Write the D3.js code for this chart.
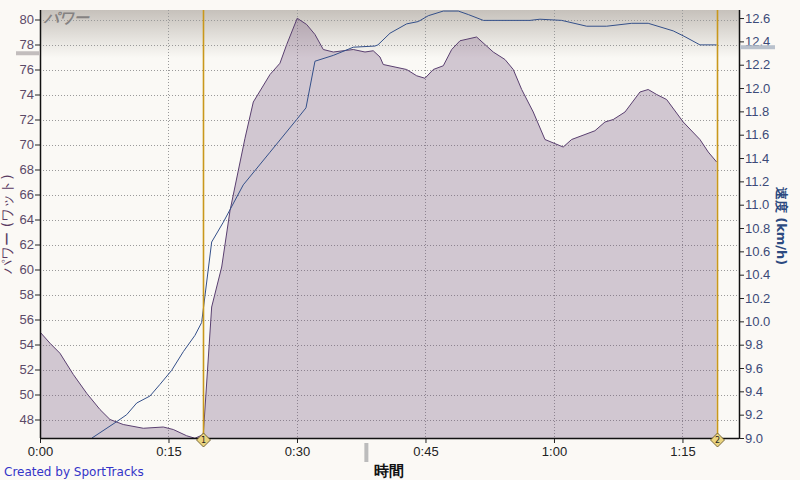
<!DOCTYPE html>
<html>
<head>
<meta charset="utf-8">
<script src="https://cdn.jsdelivr.net/npm/d3@7"></script>
<style>
  body { margin: 0; background: #fbf9f5; }
  svg { display: block; font-family: "DejaVu Sans", Verdana, sans-serif; }
</style>
</head>
<body>
<div id="chart"></div>
<script>
// 時間 (分)
const powerTime = [0, 1.17, 2.33, 3.89, 5.45, 7.0, 8.17, 9.72, 12.06, 14.39, 15.56, 17.12, 18.09, 19.06,
  20.04, 21.21, 22.18, 23.93, 24.9, 26.85, 28.01, 28.8, 30.03, 31.13, 32.1, 33.07, 34.24, 36.57, 37.94,
  38.9, 39.69, 40.07, 42.8, 43.97, 44.94, 45.91, 47.08, 48.06, 49.03, 50.97, 52.91, 54.28, 55.25, 56.23,
  57.58, 58.95, 61.08, 62.06, 63.62, 64.78, 65.95, 66.92, 68.29, 70.04, 71.0, 71.99, 73.15, 75.09, 77.04,
  78.01, 78.99];
// パワー (ワット)
const powerValues = [55.0, 54.1, 53.3, 51.6, 50.1, 48.8, 48.0, 47.6, 47.3, 47.4, 47.2, 46.7, 46.5, 46.8,
  57.0, 60.2, 64.7, 70.5, 73.4, 75.6, 76.5, 78.0, 80.1, 79.6, 78.8, 77.6, 77.4, 77.6, 77.4,
  77.5, 77.0, 76.4, 76.0, 75.5, 75.3, 76.0, 76.3, 77.6, 78.3, 78.6, 77.4, 76.8, 76.0, 74.4,
  72.6, 70.4, 69.8, 70.4, 70.8, 71.1, 71.8, 72.0, 72.6, 74.2, 74.4, 74.0, 73.6, 71.8, 70.4,
  69.4, 68.6];

const speedTime = [6.07, 8.95, 10.12, 11.29, 12.84, 14.01, 15.37, 16.73, 18.09, 18.87, 20.04, 21.4,
  23.73, 26.85, 29.96, 31.05, 32.1, 34.24, 36.57, 39.1, 39.45, 40.86, 42.8, 44.16, 45.33, 47.08, 48.83,
  50.0, 51.75, 57.2, 58.36, 60.9, 63.82, 66.15, 69.07, 71.0, 73.92, 75.29, 77.04, 78.99];
// 速度 (km/h)
const speedValues = [9.0, 9.14, 9.2, 9.3, 9.36, 9.46, 9.58, 9.74, 9.88, 9.99, 10.68, 10.85,
  11.17, 11.45, 11.73, 11.83, 12.23, 12.28, 12.35, 12.36, 12.37, 12.47, 12.55, 12.57, 12.62, 12.66, 12.66,
  12.63, 12.58, 12.58, 12.59, 12.58, 12.53, 12.53, 12.555, 12.555, 12.49, 12.44, 12.37, 12.37];

const lapMarkers = [19.03, 79.0];
const lapLabels = ["1", "2"];
const avgPower = 77.3, avgSpeed = 12.35, avgTime = 38.1;

const powerTicks = d3.range(48, 81, 2);
const speedTicks = d3.range(9.0, 12.61, 0.2);
const timeTicks = [0, 15, 30, 45, 60, 75];

const W = 800, H = 480;
const margin = { top: 10, right: 61, bottom: 42, left: 40 };
const width = W - margin.left - margin.right;
const height = H - margin.top - margin.bottom;

const svg = d3.select("#chart").append("svg")
    .attr("width", W).attr("height", H);

svg.append("rect").attr("width", W).attr("height", H).attr("fill", "#fbf9f5");

const defs = svg.append("defs");
const grad = defs.append("linearGradient").attr("id", "topGrad")
    .attr("x1", 0).attr("y1", 0).attr("x2", 0).attr("y2", 1);
grad.append("stop").attr("offset", "0%").attr("stop-color", "#c6c1bb");
grad.append("stop").attr("offset", "100%").attr("stop-color", "#faf9f5");
defs.append("clipPath").attr("id", "plotClip")
  .append("rect").attr("width", width).attr("height", height);

const x = d3.scaleLinear().domain([0, 81.6]).range([0, width]);
const yP = d3.scaleLinear().domain([46.52, 80.76]).range([height, 0]);
const yS = d3.scaleLinear().domain([9.0, 12.669]).range([height, 0]);

const g = svg.append("g").attr("transform", `translate(${margin.left},${margin.top})`);

// 背景
g.append("rect").attr("width", width).attr("height", height).attr("fill", "#faf9f5");
g.append("rect").attr("width", width).attr("height", 48).attr("fill", "url(#topGrad)");

// グリッド
g.append("g").selectAll("line").data(powerTicks).join("line")
    .attr("x1", 0).attr("x2", width)
    .attr("y1", d => Math.round(yP(d)) + 0.5).attr("y2", d => Math.round(yP(d)) + 0.5)
    .attr("stroke", "#9a9a9a").attr("stroke-dasharray", "1,2");
g.append("g").selectAll("line").data(timeTicks.slice(1)).join("line")
    .attr("x1", d => Math.round(x(d)) + 0.5).attr("x2", d => Math.round(x(d)) + 0.5)
    .attr("y1", 0).attr("y2", height)
    .attr("stroke", "#9a9a9a").attr("stroke-dasharray", "1,2");

const powerData = powerTime.map((t, i) => ({ t, v: powerValues[i] }));
const speedData = speedTime.map((t, i) => ({ t, v: speedValues[i] }));

const plot = g.append("g").attr("clip-path", "url(#plotClip)");

plot.append("path").datum(powerData)
    .attr("d", d3.area().x(d => x(d.t)).y0(height).y1(d => yP(d.v)))
    .attr("fill", "#6e4c78").attr("fill-opacity", 0.29);
plot.append("path").datum(powerData)
    .attr("d", d3.line().x(d => x(d.t)).y(d => yP(d.v)))
    .attr("fill", "none").attr("stroke", "#5a4070").attr("stroke-width", 1);

plot.append("path").datum(speedData)
    .attr("d", d3.line().x(d => x(d.t)).y(d => yS(d.v)))
    .attr("fill", "none").attr("stroke", "#34508a").attr("stroke-width", 1);

// ラップ
g.selectAll(".lap").data(lapMarkers).join("line")
    .attr("class", "lap")
    .attr("x1", d => Math.round(x(d)) + 0.5).attr("x2", d => Math.round(x(d)) + 0.5)
    .attr("y1", 0).attr("y2", height)
    .attr("stroke", "#c9981c").attr("stroke-width", 1.6);

// 軸
const axisL = g.append("g").call(d3.axisLeft(yP).tickValues(powerTicks).tickSize(5).tickSizeOuter(0));
axisL.select(".domain").remove();
axisL.selectAll("line").attr("stroke", "#222");
axisL.selectAll("text").attr("fill", "#5c4a68").style("font-size", "13px").attr("x", -6);

const axisR = g.append("g").attr("transform", `translate(${width},0)`)
    .call(d3.axisRight(yS).tickValues(speedTicks).tickSize(5).tickFormat(d3.format(".1f")));
axisR.select(".domain").remove();
axisR.selectAll("line").attr("stroke", "#222");
axisR.selectAll("text").attr("fill", "#3c4a78").style("font-size", "13px").attr("x", 6);

const fmt = m => `${Math.floor(m / 60)}:${String(m % 60).padStart(2, "0")}`;
const axisB = g.append("g").attr("transform", `translate(0,${height})`)
    .call(d3.axisBottom(x).tickValues(timeTicks).tickSize(5).tickFormat(fmt));
axisB.select(".domain").remove();
axisB.selectAll("line").attr("stroke", "#222");
axisB.selectAll("text").attr("fill", "#222").style("font-size", "13px").attr("y", 9);

g.append("line").attr("x1", 0.5).attr("x2", 0.5).attr("y1", 0).attr("y2", height).attr("stroke", "#111").attr("stroke-width", 1.5);
g.append("line").attr("x1", width + 0.5).attr("x2", width + 0.5).attr("y1", 0).attr("y2", height).attr("stroke", "#111").attr("stroke-width", 1.5);
g.append("line").attr("x1", 0).attr("x2", width).attr("y1", height + 0.5).attr("y2", height + 0.5).attr("stroke", "#111").attr("stroke-width", 1.5);

// ラップマーカー
const diamonds = g.selectAll(".dia").data(lapMarkers).join("g")
    .attr("transform", d => `translate(${Math.round(x(d)) + 0.5},${height + 2})`);
diamonds.append("path").attr("d", "M0,-7L7,0L0,7L-7,0Z")
    .attr("fill", "#ead47e").attr("stroke", "#5a4a20").attr("stroke-width", 0.8);
diamonds.append("text").attr("text-anchor", "middle").attr("y", 3)
    .style("font-size", "8px").attr("fill", "#222").text((d, i) => lapLabels[i]);

// 平均マーカー
g.append("rect").attr("x", -24).attr("y", yP(avgPower) - 2).attr("width", 24).attr("height", 4).attr("fill", "#c2bdbd");
g.append("rect").attr("x", width + 1).attr("y", yS(avgSpeed) - 2).attr("width", 35).attr("height", 4).attr("fill", "#b9c1cc");
g.append("rect").attr("x", x(avgTime) - 2).attr("y", height + 5).attr("width", 4).attr("height", 19).attr("fill", "#bcbcbc");

// タイトル・ラベル
g.append("text").attr("x", 4).attr("y", 13)
    .style("font-size", "15px").style("font-style", "italic").style("font-weight", "bold")
    .attr("fill", "#858282").text("パワー");

svg.append("text")
    .attr("transform", `translate(12,${224}) rotate(-90)`)
    .attr("text-anchor", "middle")
    .style("font-size", "14px").attr("fill", "#5a3a62")
    .text("パワー (ワット)");

svg.append("text")
    .attr("transform", `translate(777,${226}) rotate(90)`)
    .attr("text-anchor", "middle")
    .style("font-size", "13px").style("font-weight", "bold").attr("fill", "#2c4a80")
    .text("速度 (km/h)");

svg.append("text").attr("x", 389).attr("y", 476).attr("text-anchor", "middle")
    .style("font-size", "15px").style("font-weight", "bold").attr("fill", "#111")
    .text("時間");

svg.append("text").attr("x", 4).attr("y", 476)
    .style("font-size", "12px").attr("fill", "#3434c8")
    .text("Created by SportTracks");
</script>
</body>
</html>
